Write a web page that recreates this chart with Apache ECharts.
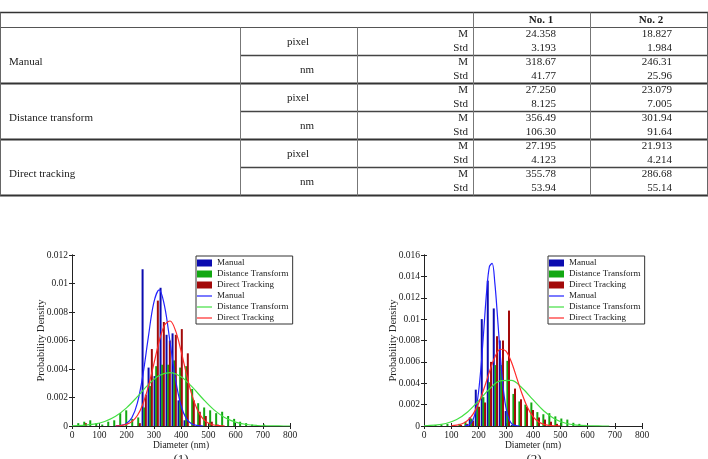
<!DOCTYPE html>
<html><head><meta charset="utf-8">
<script src="https://cdn.jsdelivr.net/npm/echarts@6/dist/echarts.min.js"></script>
<style>html,body{margin:0;padding:0;background:#fff}#c{width:708px;height:459px}</style>
</head><body><div id="c"></div>
<script>
// ---------- table data ----------
const methods = ['Manual', 'Distance transform', 'Direct tracking'];
const units = ['pixel', 'nm'];
const stats = ['M', 'Std'];
const colHeaders = ['No. 1', 'No. 2'];
const no1Values = ['24.358','3.193','318.67','41.77','27.250','8.125','356.49','106.30','27.195','4.123','355.78','53.94'];
const no2Values = ['18.827','1.984','246.31','25.96','23.079','7.005','301.94','91.64','21.913','4.214','286.68','55.14'];

// ---------- chart (1) histogram ----------
const c1ManualX = [259, 281, 303, 325, 347, 369, 391, 413];
const c1ManualY = [0.0110, 0.0041, 0.0035, 0.0097, 0.0064, 0.0065, 0.0018, 0.0004];
const c1DistX = [23, 45, 67, 89, 111, 133, 155, 177, 199, 221, 243, 265, 287, 309, 331, 353, 375, 397, 419, 441, 463, 485, 507, 529, 551, 573, 595, 617, 639, 661, 705];
const c1DistY = [0.0002, 0.0003, 0.0004, 0.0002, 0.0001, 0.0003, 0.0004, 0.0009, 0.0011, 0.0005, 0.0006, 0.0013, 0.0028, 0.0042, 0.0043, 0.0043, 0.0046, 0.0041, 0.0042, 0.0026, 0.0016, 0.0013, 0.0011, 0.0009, 0.0010, 0.0007, 0.0005, 0.0003, 0.0002, 0.0001, 0.0001];
const c1DirX = [51, 249, 271, 293, 315, 337, 359, 381, 403, 425, 447, 469, 491, 513, 535];
const c1DirY = [0.0002, 0.0002, 0.0022, 0.0054, 0.0088, 0.0073, 0.0060, 0.0064, 0.0068, 0.0051, 0.0018, 0.0010, 0.0007, 0.0003, 0.0001];
// fitted curves (1)
const c1ManualCurveX = [160,180,200,220,240,260,280,300,320,340,360,380,400,420,440,460,480];
const c1ManualCurveY = [0.000007,0.000039,0.00017,0.00059,0.00162,0.00356,0.00622,0.00864,0.00955,0.00838,0.00586,0.00325,0.00144,0.00050,0.00014,0.00003,0.000006];
const c1DistCurveX = [0,40,80,120,160,200,240,280,320,360,400,440,480,520,560,600,640,680,720,760,800];
const c1DistCurveY = [0.0000135,0.0000446,0.000127,0.000316,0.000680,0.00127,0.00206,0.00290,0.00354,0.00375,0.00345,0.00276,0.00191,0.00115,0.000600,0.000272,0.000107,0.0000366,0.0000108,0.0000028,0.0000006];
const c1DirCurveX = [160,180,200,220,240,260,280,300,320,340,360,380,400,420,440,460,480,500,520,540,560];
const c1DirCurveY = [0.0000102,0.0000365,0.000114,0.000311,0.000739,0.00153,0.00276,0.00433,0.00594,0.00709,0.00737,0.00669,0.00528,0.00364,0.00218,0.00114,0.000521,0.000207,0.0000718,0.0000216,0.0000057];

// ---------- chart (2) histogram ----------
const c2ManualX = [168, 190, 212, 234, 256, 278, 300, 322];
const c2ManualY = [0.0008, 0.0034, 0.0100, 0.0136, 0.0110, 0.0080, 0.0014, 0.0001];
const c2DistX = [42, 64, 86, 108, 130, 152, 174, 196, 218, 240, 262, 284, 306, 328, 350, 372, 394, 416, 438, 460, 482, 504, 526, 548, 570, 592];
const c2DistY = [0.0001, 0.0001, 0.0002, 0.0001, 0.0002, 0.0004, 0.0007, 0.0021, 0.0027, 0.0041, 0.0057, 0.0057, 0.0061, 0.0030, 0.0023, 0.0020, 0.0022, 0.0013, 0.0011, 0.0012, 0.0009, 0.0007, 0.0006, 0.0003, 0.0002, 0.0001];
const c2DirX = [136, 158, 180, 202, 224, 246, 268, 290, 312, 334, 356, 378, 400, 422, 444, 466, 488];
const c2DirY = [0.0001, 0.0002, 0.0005, 0.0018, 0.0022, 0.0060, 0.0084, 0.0080, 0.0108, 0.0035, 0.0025, 0.0018, 0.0015, 0.0008, 0.0006, 0.0004, 0.0002];
// fitted curves (2)
const c2ManualCurveX = [150,160,170,180,190,200,210,220,230,240,250,260,270,280,290,300,310,320,330,340,350];
const c2ManualCurveY = [0.0000158,0.000061,0.000204,0.000587,0.00146,0.00313,0.00578,0.00920,0.01262,0.01492,0.01521,0.01337,0.01013,0.00662,0.00373,0.00181,0.000758,0.000273,0.000085,0.0000228,0.0000053];
const c2DistCurveX = [0,40,80,120,160,200,240,280,320,360,400,440,480,520,560,600,640,680];
const c2DistCurveY = [0.0000191,0.0000731,0.000232,0.000606,0.00131,0.00234,0.00346,0.00423,0.00427,0.00356,0.00246,0.00140,0.000660,0.000257,0.0000825,0.000022,0.0000048,0.000001];
const c2DirCurveX = [100,120,140,160,180,200,220,240,260,280,300,320,340,360,380,400,420,440,460,480,500];
const c2DirCurveY = [0.0000235,0.000075,0.000210,0.000517,0.00111,0.00210,0.00348,0.00506,0.00644,0.00718,0.00703,0.00603,0.00453,0.00299,0.00173,0.000875,0.000389,0.000151,0.0000517,0.0000155,0.000004];

const seriesNames = ['Manual', 'Distance Transform', 'Direct Tracking'];
const xAxisName = 'Diameter (nm)';
const yAxisName = 'Probability Density';
const captions = ['(1)', '(2)'];
const yMax = [0.012, 0.016];

// ---------- helpers ----------
const SERIF = '"Liberation Serif", "Times New Roman", serif';
const zip = (xs, ys) => xs.map((x, i) => [x, ys[i]]);
const barColors = ['#0b0bb0', '#12a812', '#a30a0a'];
const lineColors = ['#2222ff', '#44e044', '#ff2a2a'];

const graphics = [];
function gLine(x1, y1, x2, y2, w, c) {
  graphics.push({type: 'line', silent: true, shape: {x1, y1, x2, y2}, style: {stroke: c, lineWidth: w}});
}
function gText(x, y, str, align, bold, size) {
  graphics.push({type: 'text', silent: true, x: x, y: y, style: {
    text: str, font: (bold ? 'bold ' : '') + (size || 11) + 'px ' + SERIF, fill: '#1a1a1a',
    textAlign: align, textVerticalAlign: 'middle', align: align, verticalAlign: 'middle'}});
}

// table
const T0 = 12.5, H0 = 27.5, BH = 56;
const colX = [0.5, 240.5, 357.5, 473.5, 590.5, 707.5];
gLine(0, T0, 708, T0, 1.6, '#333');
gLine(0, H0, 708, H0, 1, '#555');
for (let b = 0; b < methods.length; b++) {
  const top = H0 + b * BH;
  const bottom = top + BH;
  gLine(0, bottom, 708, bottom, 1.8, '#333');
  gLine(colX[1], top + BH / 2, 708, top + BH / 2, 1.4, '#444');
  gText(9, top + 34.5, methods[b], 'left', false);
  for (let u = 0; u < units.length; u++) {
    const ut = top + u * BH / 2;
    gText(u === 0 ? 298 : 307, ut + 14.5, units[u], 'center', false);
    for (let s = 0; s < stats.length; s++) {
      const yy = ut + 7 + s * 13.5;
      const idx = b * 4 + u * 2 + s;
      gText(468, yy, stats[s], 'right', false);
      gText(556, yy, no1Values[idx], 'right', false);
      gText(672, yy, no2Values[idx], 'right', false);
    }
  }
}
const tBottom = H0 + methods.length * BH;
gLine(colX[0], T0, colX[0], tBottom, 1, '#666');
gLine(colX[5], T0, colX[5], tBottom, 1, '#666');
gLine(colX[1], H0, colX[1], tBottom, 1, '#777');
gLine(colX[2], H0, colX[2], tBottom, 1, '#777');
gLine(colX[3], T0, colX[3], tBottom, 1, '#777');
gLine(colX[4], T0, colX[4], tBottom, 1, '#777');
gText(541, 20, colHeaders[0], 'center', true);
gText(651, 20, colHeaders[1], 'center', true);
gText(181, 460, captions[0], 'center', false, 13);
gText(534, 460, captions[1], 'center', false, 13);

// ---------- charts ----------
const grids = [
  {left: 72, top: 255, width: 218, height: 171},
  {left: 424, top: 255, width: 218, height: 171}
];
const xAxes = [], yAxes = [];
const axLine = {show: true, lineStyle: {color: '#222', width: 1}};
const tickIn = {show: true, inside: true, length: 3, lineStyle: {color: '#222'}};
grids.forEach((g, i) => {
  xAxes.push({gridIndex: i, type: 'value', min: 0, max: 800, interval: 100, position: 'bottom',
    axisLine: axLine, axisTick: tickIn, splitLine: {show: false},
    axisLabel: {fontFamily: SERIF, fontSize: 9.5, color: '#222', margin: 4},
    name: xAxisName, nameLocation: 'middle', nameGap: 14, nameMoveOverlap: false,
    nameTextStyle: {fontFamily: SERIF, fontSize: 9.5, color: '#222'}});
  xAxes.push({gridIndex: i, type: 'value', min: 0, max: 800, interval: 100, position: 'top',
    axisLine: axLine, axisTick: tickIn, axisLabel: {show: false}, splitLine: {show: false}});
  yAxes.push({gridIndex: i, type: 'value', min: 0, max: yMax[i], interval: 0.002, position: 'left',
    axisLine: axLine, axisTick: tickIn, splitLine: {show: false},
    axisLabel: {fontFamily: SERIF, fontSize: 9.5, color: '#222', margin: 4},
    name: yAxisName, nameLocation: 'middle', nameGap: 25, nameMoveOverlap: false,
    nameTextStyle: {fontFamily: SERIF, fontSize: 10.5, color: '#222'}});
  yAxes.push({gridIndex: i, type: 'value', min: 0, max: yMax[i], interval: 0.002, position: 'right',
    axisLine: axLine, axisTick: tickIn, axisLabel: {show: false}, splitLine: {show: false}});
});

const histData = [
  [zip(c1ManualX, c1ManualY), zip(c1DistX, c1DistY), zip(c1DirX, c1DirY)],
  [zip(c2ManualX, c2ManualY), zip(c2DistX, c2DistY), zip(c2DirX, c2DirY)]
];
const curveData = [
  [zip(c1ManualCurveX, c1ManualCurveY), zip(c1DistCurveX, c1DistCurveY), zip(c1DirCurveX, c1DirCurveY)],
  [zip(c2ManualCurveX, c2ManualCurveY), zip(c2DistCurveX, c2DistCurveY), zip(c2DirCurveX, c2DirCurveY)]
];
const series = [];
for (let g = 0; g < 2; g++) {
  for (let k = 0; k < 3; k++) {
    series.push({type: 'bar', name: seriesNames[k], xAxisIndex: g * 2, yAxisIndex: g * 2,
      data: histData[g][k], barWidth: 2, barGap: '-100%', silent: true, z: 2,
      itemStyle: {color: barColors[k]}});
  }
  for (let k = 0; k < 3; k++) {
    series.push({type: 'line', name: seriesNames[k] + ' ', xAxisIndex: g * 2, yAxisIndex: g * 2,
      data: curveData[g][k], smooth: 0.35, symbol: 'none', showSymbol: false, silent: true, z: 4,
      lineStyle: {color: lineColors[k], width: 1.2}, itemStyle: {color: lineColors[k]}});
  }
}
const lineIcon = 'path://M0,0 L30,0 L30,2.4 L0,2.4 Z';
const legendData = seriesNames.map(n => ({name: n, icon: 'rect'}))
  .concat(seriesNames.map(n => ({name: n + ' ', icon: lineIcon})));
const legendBase = {orient: 'vertical', top: 256, data: legendData, itemWidth: 15, itemHeight: 7, itemGap: 1,
  symbolKeepAspect: true,
  padding: [2, 2, 1, 1], borderColor: '#333', borderWidth: 1, backgroundColor: '#fff', selectedMode: false,
  textStyle: {fontFamily: SERIF, fontSize: 9, color: '#222', lineHeight: 10}};
const legends = [Object.assign({}, legendBase, {left: 196}), Object.assign({}, legendBase, {left: 548})];

const chart = echarts.init(document.getElementById('c'), null, {renderer: 'canvas'});
chart.setOption({
  animation: false,
  backgroundColor: '#fff',
  grid: grids,
  xAxis: xAxes,
  yAxis: yAxes,
  legend: legends,
  series: series,
  graphic: graphics
});
</script></body></html>
